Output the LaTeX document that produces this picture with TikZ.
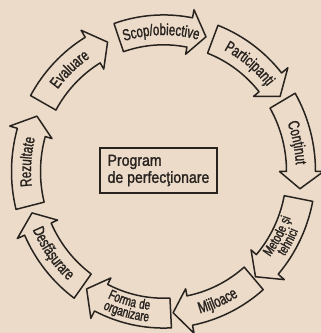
\documentclass[tikz,border=0pt]{standalone}
\usepackage{fontspec}
\setmainfont{Liberation Sans}
\newfontfamily\inkfamily{Liberation Sans}[FakeBold=1.5, FakeStretch=0.72, LetterSpace=5]
\newfontfamily\boxfamily{Liberation Sans}[FakeBold=1.5, FakeStretch=0.88]
\usetikzlibrary{decorations.text}
\definecolor{paper}{RGB}{236,219,201}
\definecolor{ink}{RGB}{40,35,31}
% fonts for the ring labels
\newcommand\arclbl{\inkfamily\fontsize{16pt}{16pt}\selectfont}
\newcommand\arcsmall{\inkfamily\fontsize{14pt}{14pt}\selectfont}
\newcommand\Ro{152}   % outer radius of the ring
\newcommand\Ri{123}   % inner radius of the ring
\newcommand\Rm{137.5} % middle radius (arrow tips)
\newcommand\Rob{160}  % outer barb
\newcommand\Rib{116}  % inner barb
\begin{document}
\begin{tikzpicture}[x=1pt,y=1pt,
  stage/.style={draw=ink, line width=1.5pt, line join=round},
  ringlabel/.style={decorate, decoration={text along path, text align=center,
      text color=ink, text={|\arclbl|#1}}},
  ringsmall/.style={decorate, decoration={text along path, text align=center,
      text color=ink, text={|\arcsmall|#1}}},
  centrebox/.style={draw=ink, line width=1.6pt, text=ink, align=left,
      minimum width=117pt, minimum height=45pt, inner xsep=5pt,
      font=\boxfamily\fontsize{16pt}{17pt}\selectfont},
]
\fill[paper] (0,0) rectangle (321,333);
\useasboundingbox (0,0) rectangle (321,333);

\begin{scope}[shift={(163.5,161.5)}, yscale=1.03]
  % nine curved arrows running clockwise round the ring
  \foreach \c in {90,50,11,-30,-68,-106,-145,175,132}{
    \begin{scope}[rotate=\c]
      \draw[stage] (19:\Ri) -- (19:\Ro)
        arc[start angle=19, end angle=-11, radius=\Ro]
        -- (-11:\Rob) -- (-18:\Rm) -- (-11:\Rib) -- (-11:\Ri)
        arc[start angle=-11, end angle=19, radius=\Ri] -- cycle;
    \end{scope}
  }
  % upper labels read clockwise
  \path[ringlabel=Scop/obiective] (131:132.5) arc[start angle=131, end angle=51, radius=132.5];
  \path[ringlabel=Participanţi] (91:132.5) arc[start angle=91, end angle=11, radius=132.5];
  \path[ringlabel=Conţinut] (52:132.5) arc[start angle=52, end angle=-28, radius=132.5];
  \path[ringlabel=Rezultate] (216:132.5) arc[start angle=216, end angle=136, radius=132.5];
  \path[ringlabel=Evaluare] (173:132.5) arc[start angle=173, end angle=93, radius=132.5];
  % lower labels read counter-clockwise
  \path[ringsmall=Metode şi] (-69:135) arc[start angle=-69, end angle=11, radius=135];
  \path[ringsmall=tehnici] (-69:146.5) arc[start angle=-69, end angle=11, radius=146.5];
  \path[ringlabel=Mijloace] (-107:142.5) arc[start angle=-107, end angle=-27, radius=142.5];
  \path[ringsmall=Forma de] (-145:135) arc[start angle=-145, end angle=-65, radius=135];
  \path[ringsmall=organizare] (-145:146.5) arc[start angle=-145, end angle=-65, radius=146.5];
  \path[ringlabel=Desfăşurare] (-184:142.5) arc[start angle=-184, end angle=-104, radius=142.5];
\end{scope}

\node[centrebox] (prog) at (158.5,162.5) {Program\\de perfecţionare};
\end{tikzpicture}
\end{document}
